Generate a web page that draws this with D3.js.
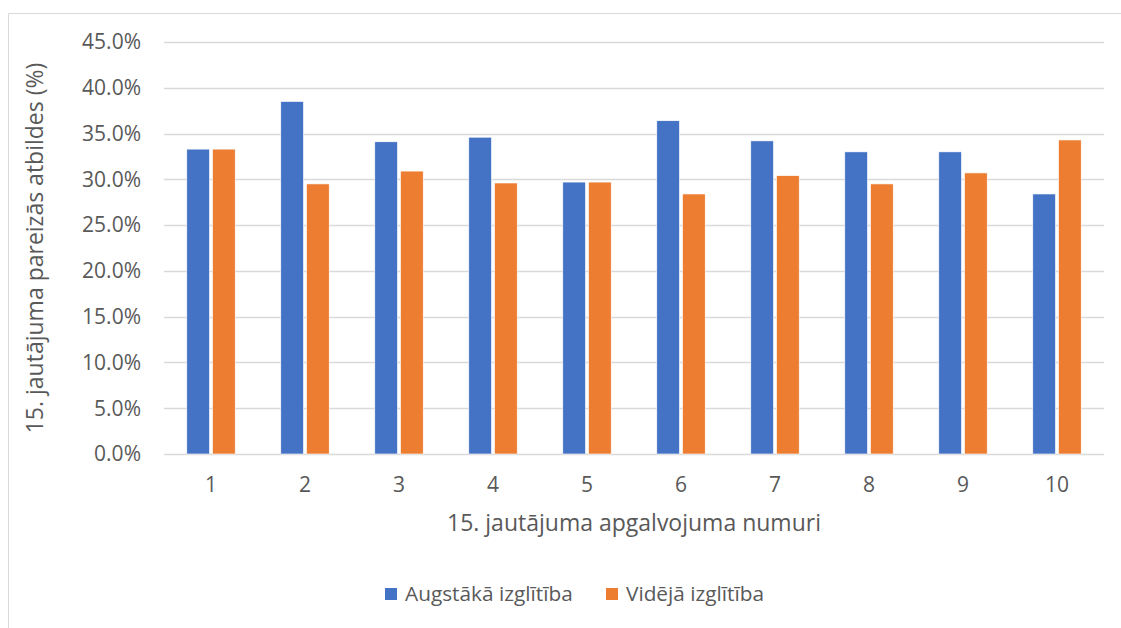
<!DOCTYPE html>
<html lang="lv">
<head>
<meta charset="UTF-8">
<title>15. jautājums</title>
<script src="https://cdn.jsdelivr.net/npm/d3@7"></script>
<style>
  body { margin: 0; background: #fff; }
  text { font-family: "Open Sans", sans-serif; fill: #595959; }
</style>
</head>
<body>
<script>
// data
var categories = ["1", "2", "3", "4", "5", "6", "7", "8", "9", "10"];
var augstaka = [33.3, 38.5, 34.1, 34.6, 29.7, 36.4, 34.2, 33.0, 33.0, 28.4];
var videja   = [33.3, 29.5, 30.9, 29.6, 29.7, 28.4, 30.4, 29.5, 30.7, 34.3];
var seriesNames = ["Augstākā izglītība", "Vidējā izglītība"];
var colors = ["#4472c4", "#ed7d31"];
var yTicks = [0, 5, 10, 15, 20, 25, 30, 35, 40, 45];

var width = 1121, height = 628;
var margin = {left: 164, right: 17, top: 42, bottom: 174};

var svg = d3.select("body").append("svg")
    .attr("width", width)
    .attr("height", height);

// chart area border (cropped on the right and bottom)
svg.append("path")
    .attr("d", "M8.5," + height + "V13.5H" + width)
    .attr("fill", "none")
    .attr("stroke", "#d9d9d9");

var x = d3.scaleBand()
    .domain(categories)
    .range([margin.left, width - margin.right]);

var inner = d3.scaleBand()
    .domain([0, 1])
    .range([x.bandwidth() / 2 - 24.2, x.bandwidth() / 2 + 24.2])
    .paddingInner(0.12);

var y = d3.scaleLinear()
    .domain([0, 45])
    .range([height - margin.bottom, margin.top]);

// gridlines
svg.append("g")
    .selectAll("line")
    .data(yTicks)
    .enter().append("line")
    .attr("x1", margin.left)
    .attr("x2", width - margin.right)
    .attr("y1", function (d) { return Math.round(y(d)) + 0.5; })
    .attr("y2", function (d) { return Math.round(y(d)) + 0.5; })
    .attr("stroke", "#d9d9d9")
    .attr("stroke-width", 1.3);

// y tick labels
svg.append("g")
    .selectAll("text")
    .data(yTicks)
    .enter().append("text")
    .attr("x", 141)
    .attr("y", function (d) { return y(d); })
    .attr("dy", "0.35em")
    .attr("text-anchor", "end")
    .style("font-size", "21px")
    .text(function (d) { return d.toFixed(1) + "%"; });

// bars
var groups = svg.append("g")
    .selectAll("g")
    .data(categories)
    .enter().append("g")
    .attr("transform", function (d) { return "translate(" + x(d) + ",0)"; });

groups.selectAll("rect")
    .data(function (d, i) { return [augstaka[i], videja[i]]; })
    .enter().append("rect")
    .attr("x", function (d, j) { return inner(j); })
    .attr("width", inner.bandwidth())
    .attr("y", function (d) { return y(d); })
    .attr("height", function (d) { return y(0) - y(d); })
    .attr("fill", function (d, j) { return colors[j]; })
    .attr("stroke", "#fff")
    .attr("stroke-width", 0.6);

// x category labels
svg.append("g")
    .selectAll("text")
    .data(categories)
    .enter().append("text")
    .attr("x", function (d) { return x(d) + x.bandwidth() / 2; })
    .attr("y", 492)
    .attr("text-anchor", "middle")
    .style("font-size", "21px")
    .text(function (d) { return d; });

// axis titles
svg.append("text")
    .attr("transform", "translate(43," + ((y(0) + y(45)) / 2) + ") rotate(-90)")
    .attr("text-anchor", "middle")
    .style("font-size", "23px")
    .text("15. jautājuma pareizās atbildes (%)");

svg.append("text")
    .attr("x", (margin.left + width - margin.right) / 2)
    .attr("y", 531)
    .attr("text-anchor", "middle")
    .style("font-size", "23px")
    .text("15. jautājuma apgalvojuma numuri");

// legend
var legendX = [385, 606];
var legend = svg.append("g")
    .selectAll("g")
    .data(seriesNames)
    .enter().append("g")
    .attr("transform", function (d, i) { return "translate(" + legendX[i] + ",588)"; });

legend.append("rect")
    .attr("width", 12)
    .attr("height", 12)
    .attr("fill", function (d, i) { return colors[i]; });

legend.append("text")
    .attr("x", 20)
    .attr("y", 6)
    .attr("dy", "0.35em")
    .style("font-size", "20.8px")
    .text(function (d) { return d; });
</script>
</body>
</html>
